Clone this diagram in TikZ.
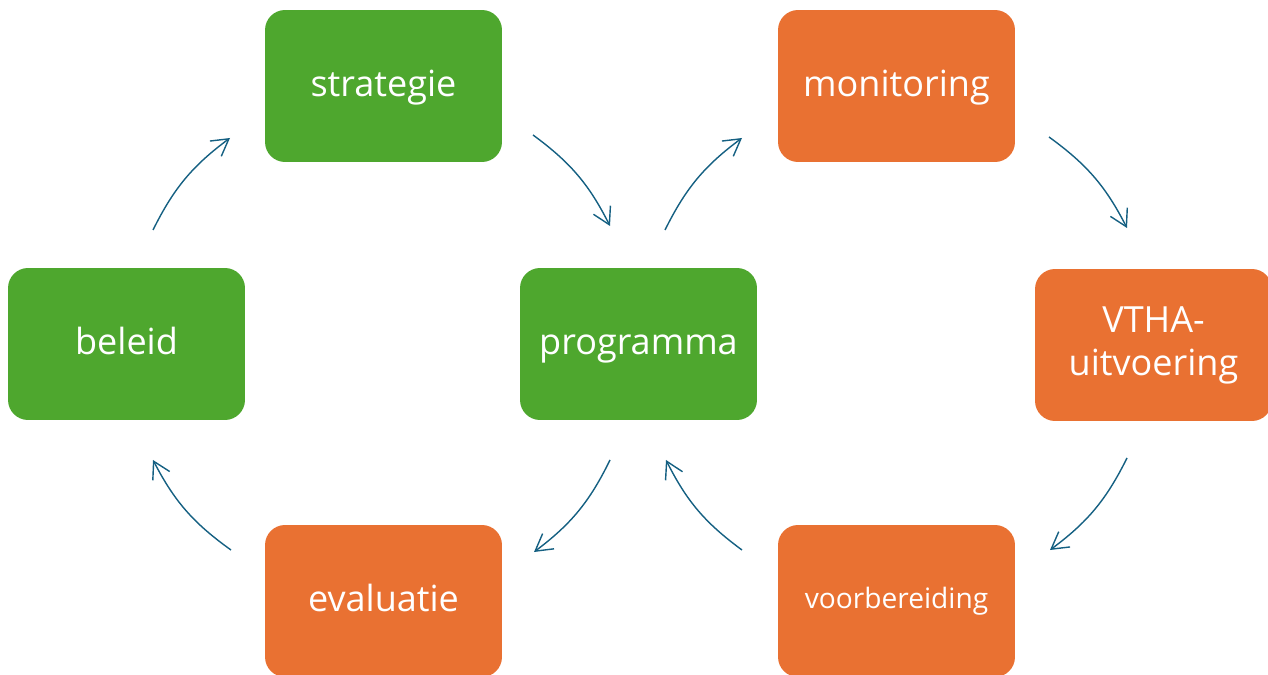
\documentclass[tikz,border=0pt]{standalone}
\usepackage{fontspec}
\setmainfont{Open Sans}
\usepackage{tikz}
\usetikzlibrary{arrows.meta,positioning,calc}
\definecolor{cyclegreen}{HTML}{4EA72E}
\definecolor{cycleorange}{HTML}{E97132}
\definecolor{cycleblue}{HTML}{156082}
\tikzstyle{box}=[rounded corners=0.4cm,minimum width=4.74cm,minimum height=3.04cm,text=white,align=center,font=\fontsize{20.5}{24.5}\selectfont,inner sep=0pt,text height=14pt,text depth=2pt]
\tikzstyle{flow}=[draw=cycleblue,line width=0.8pt,-{Straight Barb[length=3.3mm,width=3.8mm,line width=0.8pt]},bend left=13.5]

\begin{document}
\begin{tikzpicture}[x=0.02cm,y=-0.02cm]
\useasboundingbox (0,0) rectangle (1268,675);
% blocks
\node [box, fill=cyclegreen] (strategie) at (383.5,86) {strategie};
\node [box, fill=cycleorange] (monitoring) at (896.5,86) {monitoring};
\node [box, fill=cyclegreen] (beleid) at (126.5,344) {beleid};
\node [box, fill=cyclegreen] (programma) at (638.5,344) {programma};
\node [box, fill=cycleorange, text height=, text depth=] (vtha) at (1153.5,345) {VTHA-\\uitvoering};
\node [box, fill=cycleorange, font=\fontsize{16}{19}\selectfont, text height=10pt, text depth=2pt] (voorbereiding) at (896.5,601) {voorbereiding};
\node [box, fill=cycleorange] (evaluatie) at (383.5,601) {evaluatie};
% arrow ends
\coordinate (b1) at (153,230);  \coordinate (s0) at (230,138);
\coordinate (s1) at (533,135);  \coordinate (p0) at (610,226);
\coordinate (p1) at (665,230);  \coordinate (m0) at (742,138);
\coordinate (m1) at (1049,137); \coordinate (v0) at (1127,228);
\coordinate (v1) at (1127,458); \coordinate (r0) at (1050,550);
\coordinate (r1) at (742,550);  \coordinate (p2) at (666,460);
\coordinate (p3) at (610,460);  \coordinate (e0) at (534,552);
\coordinate (e1) at (231,550);  \coordinate (b0) at (153,460);
% cycle
\draw [flow] (b1) to (s0);
\draw [flow] (s1) to (p0);
\draw [flow] (p1) to (m0);
\draw [flow] (m1) to (v0);
\draw [flow] (v1) to (r0);
\draw [flow] (r1) to (p2);
\draw [flow] (p3) to (e0);
\draw [flow] (e1) to (b0);
\end{tikzpicture}
\end{document}
